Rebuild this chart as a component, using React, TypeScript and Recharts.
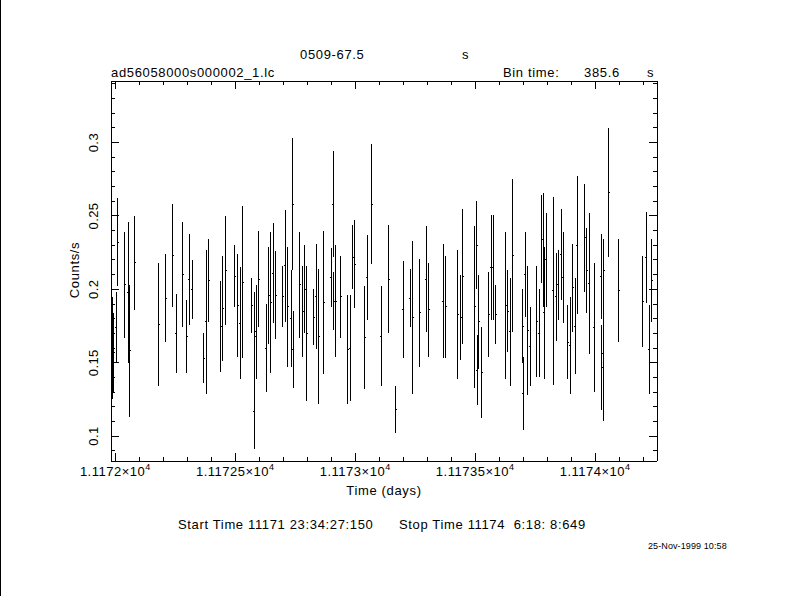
import React from 'react';
import { ScatterChart, Scatter, XAxis, YAxis, ErrorBar } from 'recharts';

// light curve bins: time (days), rate (counts/s), 1-sigma error
const binTimes = [
  11171.987, 11171.993, 11172.003, 11172.011, 11172.040, 11172.053, 11172.061, 11172.082,
  11172.182, 11172.211, 11172.240, 11172.253, 11172.282, 11172.298, 11172.309, 11172.321,
  11172.369, 11172.379, 11172.390, 11172.440, 11172.448, 11172.460, 11172.498, 11172.510,
  11172.521, 11172.532, 11172.569, 11172.579, 11172.582, 11172.587, 11172.598, 11172.629,
  11172.639, 11172.648, 11172.658, 11172.669, 11172.697, 11172.708, 11172.719, 11172.733,
  11172.740, 11172.742, 11172.768, 11172.782, 11172.789, 11172.799, 11172.828, 11172.837,
  11172.849, 11172.869, 11172.900, 11172.908, 11172.911, 11172.918, 11172.939, 11172.969,
  11172.980, 11172.989, 11172.998, 11173.039, 11173.050, 11173.069, 11173.108, 11173.139,
  11173.169, 11173.200, 11173.229, 11173.239, 11173.268, 11173.296, 11173.307, 11173.368,
  11173.378, 11173.428, 11173.439, 11173.449, 11173.498, 11173.507, 11173.508, 11173.516,
  11173.528, 11173.557, 11173.567, 11173.576, 11173.585, 11173.628, 11173.636, 11173.647,
  11173.657, 11173.698, 11173.700, 11173.708, 11173.719, 11173.729, 11173.757, 11173.768,
  11173.778, 11173.786, 11173.788, 11173.797, 11173.826, 11173.837, 11173.847, 11173.858,
  11173.868, 11173.887, 11173.897, 11173.907, 11173.917, 11173.926, 11173.957, 11173.965,
  11173.976, 11173.997, 11174.026, 11174.027, 11174.034, 11174.036, 11174.057, 11174.098,
  11174.198, 11174.214, 11174.226, 11174.236,
];

const binRates = [
  0.160, 0.157, 0.174, 0.232, 0.203, 0.198, 0.158, 0.218,
  0.176, 0.194, 0.223, 0.170, 0.210, 0.168, 0.207, 0.200,
  0.153, 0.178, 0.206, 0.175, 0.187, 0.213, 0.209, 0.189,
  0.177, 0.205, 0.189, 0.117, 0.168, 0.171, 0.207, 0.160,
  0.196, 0.191, 0.211, 0.196, 0.195, 0.216, 0.188, 0.180,
  0.258, 0.159, 0.203, 0.185, 0.200, 0.170, 0.181, 0.195,
  0.168, 0.191, 0.208, 0.258, 0.192, 0.192, 0.195, 0.159,
  0.160, 0.222, 0.217, 0.167, 0.208, 0.258, 0.168, 0.207,
  0.118, 0.186, 0.194, 0.181, 0.184, 0.207, 0.186, 0.192,
  0.188, 0.183, 0.181, 0.209, 0.188, 0.230, 0.145, 0.178,
  0.143, 0.183, 0.215, 0.215, 0.183, 0.189, 0.185, 0.171,
  0.223, 0.175, 0.129, 0.210, 0.172, 0.161, 0.178, 0.170,
  0.234, 0.227, 0.184, 0.220, 0.199, 0.195, 0.203, 0.224,
  0.208, 0.164, 0.162, 0.201, 0.175, 0.230, 0.235, 0.213,
  0.204, 0.174, 0.209, 0.147, 0.156, 0.213, 0.266, 0.199,
  0.192, 0.222, 0.159, 0.206,
];

const binErrors = [
  0.035, 0.027, 0.024, 0.030, 0.036, 0.048, 0.045, 0.032,
  0.042, 0.030, 0.035, 0.027, 0.036, 0.025, 0.031, 0.020,
  0.017, 0.049, 0.028, 0.031, 0.036, 0.037, 0.021, 0.035,
  0.038, 0.052, 0.019, 0.026, 0.030, 0.032, 0.033, 0.030,
  0.033, 0.048, 0.034, 0.030, 0.021, 0.038, 0.041, 0.033,
  0.045, 0.026, 0.036, 0.031, 0.030, 0.046, 0.019, 0.036,
  0.046, 0.049, 0.020, 0.036, 0.020, 0.038, 0.028, 0.037,
  0.036, 0.022, 0.030, 0.035, 0.029, 0.041, 0.034, 0.037,
  0.016, 0.033, 0.020, 0.052, 0.037, 0.036, 0.032, 0.039,
  0.035, 0.044, 0.029, 0.046, 0.055, 0.030, 0.024, 0.032,
  0.031, 0.029, 0.036, 0.036, 0.020, 0.050, 0.028, 0.037,
  0.052, 0.025, 0.025, 0.029, 0.044, 0.027, 0.038, 0.030,
  0.030, 0.039, 0.045, 0.032, 0.064, 0.030, 0.024, 0.031,
  0.031, 0.025, 0.033, 0.030, 0.033, 0.047, 0.037, 0.029,
  0.048, 0.044, 0.029, 0.029, 0.046, 0.021, 0.044, 0.035,
  0.031, 0.031, 0.030, 0.028,
];

const xTicks = [
  11172, 11172.1, 11172.2, 11172.3, 11172.4, 11172.5, 11172.6, 11172.7, 11172.8, 11172.9,
  11173, 11173.1, 11173.2, 11173.3, 11173.4, 11173.5, 11173.6, 11173.7, 11173.8, 11173.9,
  11174, 11174.1, 11174.2,
];
const xMajor = [11172, 11172.5, 11173, 11173.5, 11174];
const xMajorLabels = ['1.1172', '1.11725', '1.1173', '1.11735', '1.1174'];

const yTicks = [
  0.09, 0.1, 0.11, 0.12, 0.13, 0.14, 0.15, 0.16, 0.17, 0.18, 0.19, 0.2, 0.21,
  0.22, 0.23, 0.24, 0.25, 0.26, 0.27, 0.28, 0.29, 0.3, 0.31, 0.32, 0.33, 0.34,
];
const yMajor = [0.1, 0.15, 0.2, 0.25, 0.3];
const yMajorLabels = ['0.1', '0.15', '0.2', '0.25', '0.3'];

const X_DOMAIN: [number, number] = [11171.982, 11174.258];
const Y_DOMAIN: [number, number] = [0.083, 0.342];

const FONT = '"Liberation Sans", Arial, sans-serif';
const MAJOR_LEN = 8;
const MINOR_LEN = 4;

const majorIndex = (list: number[], v: number) => list.findIndex(m => Math.abs(m - v) < 1e-6);

const BottomTick = (props: any) => {
  const { x, y, payload } = props;
  const idx = majorIndex(xMajor, payload.value);
  return (
    <g>
      <line x1={x} x2={x} y1={y} y2={y - (idx >= 0 ? MAJOR_LEN : MINOR_LEN)} stroke="#000" />
      {idx >= 0 && (
        <text
          x={x}
          y={y + 15}
          textAnchor="middle"
          fontSize={13}
          fontFamily={FONT}
          letterSpacing={0.5}
          fill="#000"
        >
          {xMajorLabels[idx]}×10
          <tspan dy={-6} fontSize={9}>4</tspan>
        </text>
      )}
    </g>
  );
};

const TopTick = (props: any) => {
  const { x, y, payload } = props;
  const idx = majorIndex(xMajor, payload.value);
  return <line x1={x} x2={x} y1={y} y2={y + (idx >= 0 ? MAJOR_LEN : MINOR_LEN)} stroke="#000" />;
};

const LeftTick = (props: any) => {
  const { x, y, payload } = props;
  const idx = majorIndex(yMajor, payload.value);
  const lx = x - 13;
  return (
    <g>
      <line x1={x} x2={x + (idx >= 0 ? MAJOR_LEN : MINOR_LEN)} y1={y} y2={y} stroke="#000" />
      {idx >= 0 && (
        <text
          x={lx}
          y={y}
          transform={`rotate(-90 ${lx} ${y})`}
          textAnchor="middle"
          fontSize={13}
          fontFamily={FONT}
          letterSpacing={0.4}
          fill="#000"
        >
          {yMajorLabels[idx]}
        </text>
      )}
    </g>
  );
};

const RightTick = (props: any) => {
  const { x, y, payload } = props;
  const idx = majorIndex(yMajor, payload.value);
  return <line x1={x} x2={x - (idx >= 0 ? MAJOR_LEN : MINOR_LEN)} y1={y} y2={y} stroke="#000" />;
};

// small horizontal bar at the bin value
const BinMark = (props: any) => {
  const { cx, cy } = props;
  if (cx == null || cy == null) return null;
  return <line x1={cx - 1} x2={cx + 1} y1={cy} y2={cy} stroke="#000" strokeWidth={1} />;
};

const txt: React.CSSProperties = {
  position: 'absolute',
  fontFamily: FONT,
  fontSize: 13,
  lineHeight: '16px',
  whiteSpace: 'pre',
  letterSpacing: 0.65,
  color: '#000',
};

export default function App() {
  const points = binTimes.map((t, i) => ({ t, rate: binRates[i], err: binErrors[i] }));

  return (
    <div style={{ position: 'absolute', left: 0, top: 0, width: 790, height: 596, background: '#fff', overflow: 'hidden' }}>
      <div style={{ position: 'absolute', left: 0, top: 0, width: 1, height: 596, background: '#000' }} />

      <div style={{ position: 'absolute', left: 0, top: 0 }}>
        <ScatterChart
          width={790}
          height={596}
          margin={{ top: 71, right: 123, bottom: 105, left: 51 }}
          style={{ shapeRendering: 'crispEdges' }}
        >
          <XAxis
            xAxisId="b"
            dataKey="t"
            type="number"
            orientation="bottom"
            domain={X_DOMAIN}
            allowDataOverflow
            ticks={xTicks}
            interval={0}
            height={30}
            tickSize={0}
            tickMargin={0}
            tickLine={false}
            axisLine={{ stroke: '#000' }}
            tick={<BottomTick />}
          />
          <XAxis
            xAxisId="t"
            dataKey="t"
            type="number"
            orientation="top"
            domain={X_DOMAIN}
            allowDataOverflow
            ticks={xTicks}
            interval={0}
            height={10}
            tickSize={0}
            tickMargin={0}
            tickLine={false}
            axisLine={{ stroke: '#000' }}
            tick={<TopTick />}
          />
          <YAxis
            yAxisId="l"
            dataKey="rate"
            type="number"
            orientation="left"
            domain={Y_DOMAIN}
            allowDataOverflow
            ticks={yTicks}
            interval={0}
            width={60}
            tickSize={0}
            tickMargin={0}
            tickLine={false}
            axisLine={{ stroke: '#000' }}
            tick={<LeftTick />}
          />
          <YAxis
            yAxisId="r"
            dataKey="rate"
            type="number"
            orientation="right"
            domain={Y_DOMAIN}
            allowDataOverflow
            ticks={yTicks}
            interval={0}
            width={10}
            tickSize={0}
            tickMargin={0}
            tickLine={false}
            axisLine={{ stroke: '#000' }}
            tick={<RightTick />}
          />
          <Scatter
            data={points}
            dataKey="rate"
            xAxisId="b"
            yAxisId="l"
            shape={<BinMark />}
            isAnimationActive={false}
          >
            <ErrorBar dataKey="err" direction="y" width={0} stroke="#000" strokeWidth={1} isAnimationActive={false} />
          </Scatter>
          <Scatter
            data={points}
            dataKey="rate"
            xAxisId="t"
            yAxisId="r"
            shape={() => null}
            isAnimationActive={false}
          />
        </ScatterChart>
      </div>

      <div style={{ ...txt, left: 300, top: 47 }}>0509-67.5</div>
      <div style={{ ...txt, left: 462, top: 47 }}>s</div>
      <div style={{ ...txt, left: 111, top: 65 }}>ad56058000s000002_1.lc</div>
      <div style={{ ...txt, left: 503, top: 65 }}>Bin time:</div>
      <div style={{ ...txt, left: 584, top: 65 }}>385.6</div>
      <div style={{ ...txt, left: 647, top: 65 }}>s</div>

      <div style={{ ...txt, left: 384, top: 483, transform: 'translateX(-50%)' }}>Time (days)</div>
      <div
        style={{
          ...txt,
          left: 75,
          top: 270,
          transform: 'translate(-50%, -50%) rotate(-90deg)',
        }}
      >
        Counts/s
      </div>

      <div style={{ ...txt, left: 178, top: 517 }}>Start Time 11171 23:34:27:150</div>
      <div style={{ ...txt, left: 399, top: 517 }}>Stop Time 11174  6:18: 8:649</div>
      <div style={{ ...txt, left: 648, top: 538, fontSize: 9, letterSpacing: 0.1 }}>25-Nov-1999 10:58</div>
    </div>
  );
}
